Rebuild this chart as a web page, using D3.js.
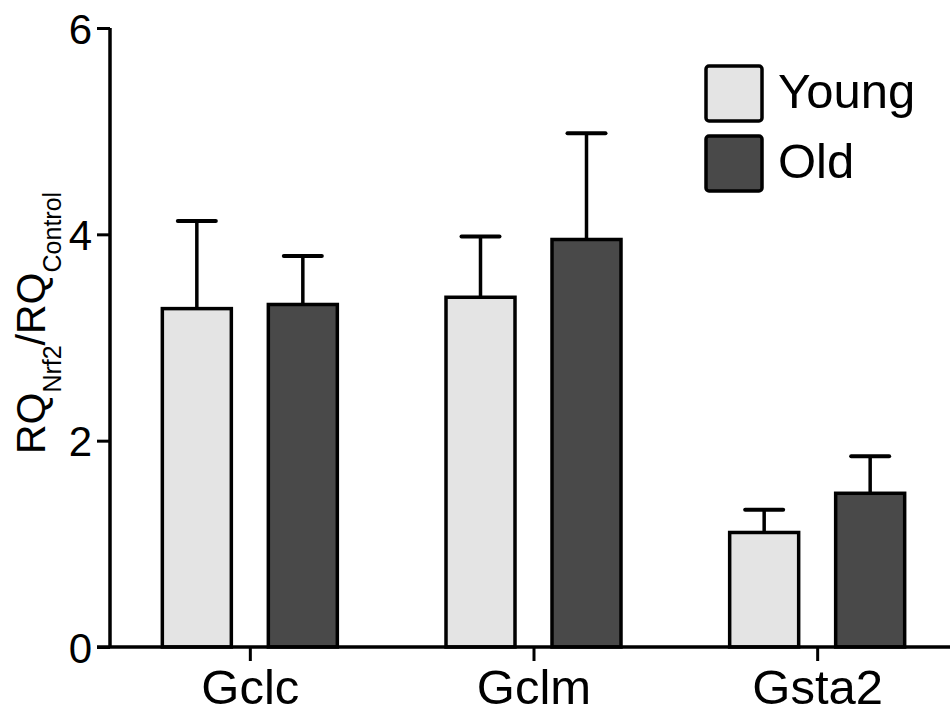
<!DOCTYPE html>
<html>
<head>
<meta charset="utf-8">
<script src="https://cdn.jsdelivr.net/npm/d3@7"></script>
<style>
  html, body { margin: 0; padding: 0; background: #fff; }
  svg { display: block; font-family: "Liberation Sans", Arial, sans-serif; }
</style>
</head>
<body>
<svg id="chart" width="950" height="715"></svg>
<script>
const categories = ["Gclc", "Gclm", "Gsta2"];
const seriesNames = ["Young", "Old"];
const youngMean = [3.28, 3.39, 1.11];
const youngErr  = [0.85, 0.59, 0.22];
const oldMean   = [3.32, 3.95, 1.49];
const oldErr    = [0.47, 1.03, 0.36];
const yTicks = [0, 2, 4, 6];
const colors = ["#e4e4e4", "#494949"];

const svg = d3.select("#chart");
const y = d3.scaleLinear().domain([0, 6]).range([647, 28]);
const x = d3.scalePoint().domain(categories).range([108, 959]).padding(0.5);
const xs = d3.scalePoint().domain(seriesNames).range([-53, 53]);

const data = [];
categories.forEach((c, i) => {
  data.push({cat: c, s: "Young", v: youngMean[i], e: youngErr[i], color: colors[0]});
  data.push({cat: c, s: "Old", v: oldMean[i], e: oldErr[i], color: colors[1]});
});

const barW = 69;
// error bars
const eb = svg.append("g");
data.forEach(d => {
  const cx = x(d.cat) + xs(d.s);
  eb.append("line").attr("x1", cx).attr("x2", cx)
    .attr("y1", y(d.v)).attr("y2", y(d.v + d.e))
    .attr("stroke", "#000").attr("stroke-width", 3.5);
  eb.append("line").attr("x1", cx - 19).attr("x2", cx + 19)
    .attr("y1", y(d.v + d.e)).attr("y2", y(d.v + d.e))
    .attr("stroke", "#000").attr("stroke-width", 4).attr("stroke-linecap", "round");
});
// bars
svg.append("g").selectAll("rect").data(data).join("rect")
  .attr("x", d => x(d.cat) + xs(d.s) - barW / 2)
  .attr("width", barW)
  .attr("y", d => y(d.v))
  .attr("height", d => y(0) - y(d.v))
  .attr("fill", d => d.color)
  .attr("stroke", "#000").attr("stroke-width", 3.5);

// y axis
const yAxis = svg.append("g").attr("transform", "translate(110,0)")
  .call(d3.axisLeft(y).tickValues(yTicks).tickFormat(d3.format("d")).tickSize(13).tickPadding(5));
yAxis.select(".domain").attr("d", `M0,${y(6)}V${y(0)}`).attr("stroke-width", 3.5);
yAxis.selectAll(".tick line").attr("stroke-width", 3);
yAxis.selectAll("text").attr("font-size", 42).attr("fill", "#000")
  .attr("font-family", "Liberation Sans, Arial, sans-serif").attr("dy", "0.36em");

// x axis
const xAxis = svg.append("g").attr("transform", `translate(0,${y(0)})`)
  .call(d3.axisBottom(x).tickSize(14).tickPadding(8));
xAxis.select(".domain").attr("d", `M97,0H950`).attr("stroke-width", 3.5);
xAxis.selectAll(".tick line").attr("stroke-width", 3);
xAxis.selectAll("text").attr("font-size", 49).attr("fill", "#000")
  .attr("font-family", "Liberation Sans, Arial, sans-serif").attr("dy", "0.71em");

// y label
const yl = svg.append("text")
  .attr("transform", "translate(45,323) rotate(-90)")
  .attr("text-anchor", "middle").attr("font-size", 41).attr("fill", "#000");
yl.append("tspan").text("RQ");
yl.append("tspan").attr("font-size", 25).attr("dy", 16).text("Nrf2");
yl.append("tspan").attr("dy", -16).text("/RQ");
yl.append("tspan").attr("font-size", 25).attr("dy", 16).text("Control");

// legend
const lg = svg.append("g");
seriesNames.forEach((s, i) => {
  const g = lg.append("g").attr("transform", `translate(706,${66 + i * 70})`);
  g.append("rect").attr("x", 0).attr("y", 0).attr("width", 56).attr("height", 55)
    .attr("rx", 3).attr("fill", colors[i]).attr("stroke", "#000").attr("stroke-width", 3.5);
  g.append("text").attr("x", 72).attr("y", 42).attr("font-size", 49).attr("fill", "#000").text(s);
});
</script>
</body>
</html>
